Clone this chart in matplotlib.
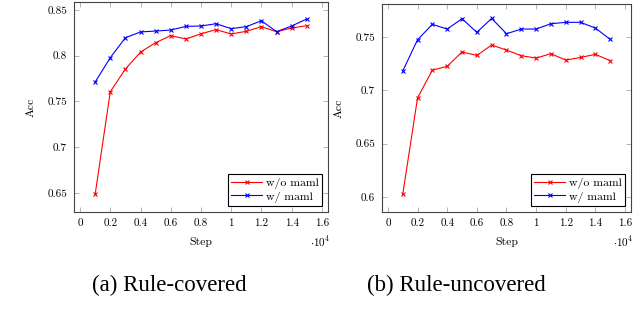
import matplotlib.pyplot as plt
import numpy as np

plt.rcParams['font.family'] = ['cmr10', 'DejaVu Serif']
plt.rcParams['mathtext.fontset'] = 'cm'
plt.rcParams['axes.formatter.use_mathtext'] = True

steps = np.arange(1, 16) * 0.1

cov_wo = [0.6486, 0.7607, 0.7855, 0.8040, 0.8143, 0.8220, 0.8183, 0.8240,
          0.8285, 0.8238, 0.8267, 0.8318, 0.8263, 0.8303, 0.8329]
cov_w = [0.7713, 0.7979, 0.8197, 0.8260, 0.8270, 0.8281, 0.8321, 0.8325,
         0.8350, 0.8296, 0.8318, 0.8383, 0.8263, 0.8325, 0.8402]

unc_wo = [0.6024, 0.6930, 0.7190, 0.7225, 0.7360, 0.7328, 0.7425, 0.7378,
          0.7325, 0.7303, 0.7344, 0.7284, 0.7309, 0.7338, 0.7278]
unc_w = [0.7181, 0.7475, 0.7619, 0.7575, 0.7672, 0.7544, 0.7675, 0.7531,
         0.7575, 0.7575, 0.7625, 0.7638, 0.7638, 0.7584, 0.7478]

xticks = [0, 0.2, 0.4, 0.6, 0.8, 1, 1.2, 1.4, 1.6]
xticklabels = ['0', '0.2', '0.4', '0.6', '0.8', '1', '1.2', '1.4', '1.6']

fig = plt.figure(figsize=(6.38, 3.24), dpi=100)
ax1 = fig.add_axes([0.116, 0.3457, 0.398, 0.648])
ax2 = fig.add_axes([0.5987, 0.3457, 0.3903, 0.642])


def draw(ax, wo, w, ylim, yticks, yticklabels):
    ax.plot(steps, wo, color='red', marker='x', markersize=3.5, lw=0.8,
            mew=0.8, label='w/o maml')
    ax.plot(steps, w, color='blue', marker='x', markersize=3.5, lw=0.8,
            mew=0.8, label='w/ maml')
    ax.set_xlim(-0.04, 1.64)
    ax.set_ylim(*ylim)
    ax.set_xticks(xticks)
    ax.set_xticklabels(xticklabels)
    ax.set_yticks(yticks)
    ax.set_yticklabels(yticklabels)
    ax.tick_params(direction='in', length=3.5, width=0.6, color='#aaaaaa',
                   top=True, right=True, labelsize=8, pad=5)
    for s in ax.spines.values():
        s.set_color('#444444')
        s.set_linewidth(0.8)
    ax.set_xlabel('Step', fontsize=8.5, labelpad=6)
    ax.set_ylabel('Acc', fontsize=8.5, labelpad=8)
    ax.text(1.008, -0.143, r'$\cdot10^4$', transform=ax.transAxes,
            ha='right', va='center', fontsize=8)
    leg = ax.legend(loc='lower right', fontsize=8.5, fancybox=False,
                    framealpha=1, edgecolor='black', borderaxespad=0.5,
                    handlelength=2.6, handletextpad=0.3, borderpad=0.3,
                    labelspacing=0.2)
    leg.get_frame().set_linewidth(0.8)


draw(ax1, cov_wo, cov_w, (0.6292, 0.8587),
     [0.65, 0.7, 0.75, 0.8, 0.85], ['0.65', '0.7', '0.75', '0.8', '0.85'])
draw(ax2, unc_wo, unc_w, (0.586, 0.781),
     [0.6, 0.65, 0.7, 0.75], ['0.6', '0.65', '0.7', '0.75'])

fig.text(0.265, 0.12, '(a) Rule-covered', ha='center', va='center',
         fontsize=16.5, family='Liberation Serif')
fig.text(0.716, 0.12, '(b) Rule-uncovered', ha='center', va='center',
         fontsize=16.5, family='Liberation Serif')

plt.savefig('out.png', dpi=100)
